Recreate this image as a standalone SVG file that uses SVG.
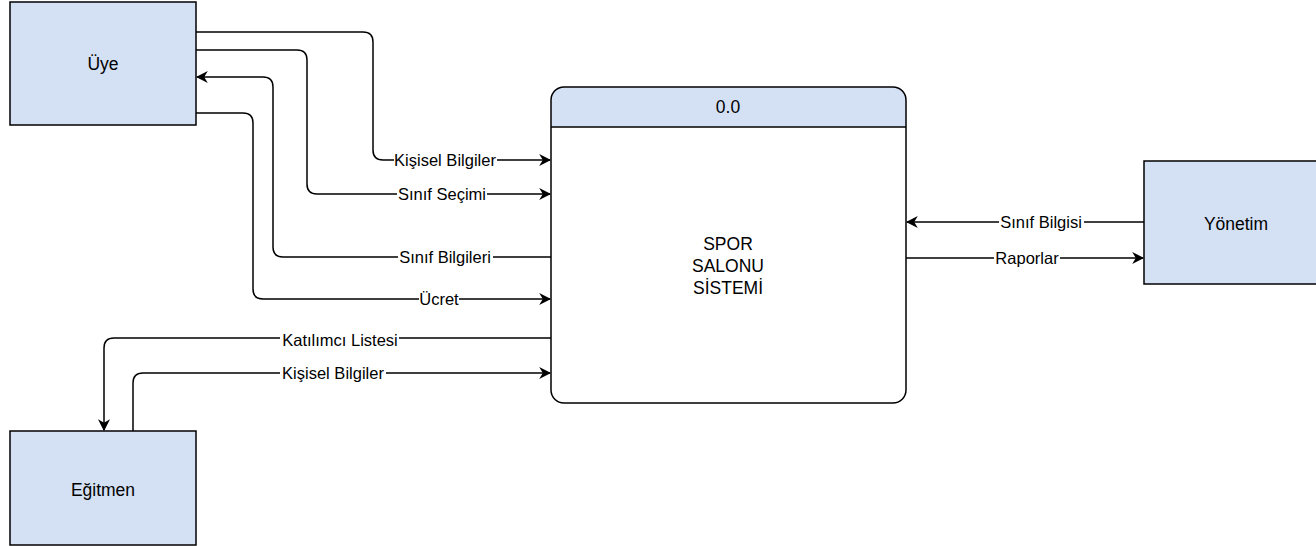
<svg xmlns="http://www.w3.org/2000/svg" width="1316" height="546" viewBox="0 0 1316 546">
<style>
.box{fill:#d4e1f5;stroke:#000;stroke-width:1.5}
.nt{font-family:"Liberation Sans",Arial,sans-serif;font-size:17.5px;fill:#000;text-anchor:middle}
.lt{font-family:"Liberation Sans",Arial,sans-serif;font-size:16.5px;fill:#000;text-anchor:middle}
.e{fill:none;stroke:#000;stroke-width:1.5}
.bg{fill:#fff}
</style>
<defs>
<marker id="ar" viewBox="0 0 10 10" refX="9" refY="5" markerWidth="12" markerHeight="12" markerUnits="userSpaceOnUse" orient="auto">
<path d="M0,0 L10,5 L0,10 L3,5 z" fill="#000"/>
</marker>
</defs>
<rect width="1316" height="546" fill="#fff"/>
<g id="connectors">
<path class="e" d="M196,32 H363 Q373,32 373,42 V150 Q373,160 383,160 H550" marker-end="url(#ar)"/>
<path class="e" d="M196,50 H297 Q307,50 307,60 V184 Q307,194 317,194 H550" marker-end="url(#ar)"/>
<path class="e" d="M551,257 H283 Q273,257 273,247 V87 Q273,77 263,77 H197" marker-end="url(#ar)"/>
<path class="e" d="M196,113 H243 Q253,113 253,123 V289 Q253,299 263,299 H550" marker-end="url(#ar)"/>
<path class="e" d="M551,338 H114 Q104,338 104,348 V430" marker-end="url(#ar)"/>
<path class="e" d="M133,431 V383 Q133,373 143,373 H550" marker-end="url(#ar)"/>
<path class="e" d="M1144,222 H907" marker-end="url(#ar)"/>
<path class="e" d="M906,258 H1143" marker-end="url(#ar)"/>
<rect class="bg" x="394" y="152" width="103" height="16"/>
<text class="lt" x="445" y="166">Kişisel Bilgiler</text>
<rect class="bg" x="397" y="186" width="90" height="16"/>
<text class="lt" x="442" y="200">Sınıf Seçimi</text>
<rect class="bg" x="398" y="249" width="95" height="16"/>
<text class="lt" x="445" y="263">Sınıf Bilgileri</text>
<rect class="bg" x="419" y="291" width="40" height="16"/>
<text class="lt" x="439" y="305">Ücret</text>
<rect class="bg" x="280" y="331" width="119" height="16"/>
<text class="lt" x="340" y="346">Katılımcı Listesi</text>
<rect class="bg" x="280" y="365" width="106" height="16"/>
<text class="lt" x="333" y="379">Kişisel Bilgiler</text>
<rect class="bg" x="999" y="214" width="85" height="16"/>
<text class="lt" x="1041" y="228">Sınıf Bilgisi</text>
<rect class="bg" x="994" y="250" width="66" height="16"/>
<text class="lt" x="1027" y="264">Raporlar</text>
</g>
<g id="uye">
<rect class="box" x="10" y="2" width="186" height="123"/>
<text class="nt" x="103" y="70">Üye</text>
</g>
<g id="egitmen">
<rect class="box" x="10" y="431" width="186" height="114"/>
<text class="nt" x="103" y="496">Eğitmen</text>
</g>
<g id="yonetim">
<rect class="box" x="1144" y="161" width="186" height="123"/>
<text class="nt" x="1236" y="230">Yönetim</text>
</g>
<g id="process">
<rect x="551" y="87" width="355" height="316" rx="13" fill="#fff"/>
<path d="M551,127 V100 Q551,87 564,87 H893 Q906,87 906,100 V127 Z" fill="#d4e1f5"/>
<line x1="551" y1="127" x2="906" y2="127" stroke="#000" stroke-width="1.5"/>
<rect x="551" y="87" width="355" height="316" rx="13" fill="none" stroke="#000" stroke-width="1.5"/>
<text class="nt" x="728" y="113">0.0</text>
<text class="nt" x="728" y="250">SPOR</text>
<text class="nt" x="728" y="272">SALONU</text>
<text class="nt" x="728" y="294">SİSTEMİ</text>
</g>
</svg>
